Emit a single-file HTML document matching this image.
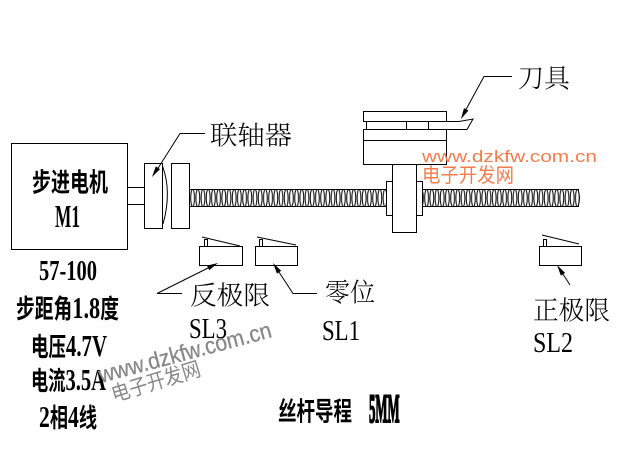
<!DOCTYPE html>
<html>
<head>
<meta charset="utf-8">
<style>
html,body{margin:0;padding:0;background:#fff;}
svg{display:block;}
.b{font-family:"Liberation Serif","Noto Sans CJK SC",sans-serif;font-weight:bold;font-size:26px;fill:#000;}
.l{font-family:"Liberation Serif","Noto Serif CJK SC","Noto Sans CJK SC",serif;font-weight:300;font-size:26px;fill:#000;}
.s{font-family:"Liberation Serif",serif;font-size:28px;fill:#000;}
.b .d{font-size:31px;}
</style>
</head>
<body>
<svg width="619" height="454" viewBox="0 0 619 454" xmlns="http://www.w3.org/2000/svg">
<defs>
<pattern id="thr" x="190" y="189" width="5.2" height="18" patternUnits="userSpaceOnUse">
<ellipse cx="2.6" cy="9" rx="1.9" ry="8.6" fill="none" stroke="#000" stroke-width="1"/>
</pattern>
</defs>
<rect width="619" height="454" fill="#fff"/>
<g fill="none" stroke="#000" stroke-width="1">
<!-- motor -->
<rect x="11.5" y="143.5" width="116" height="106"/>
<line x1="127" y1="187.5" x2="144" y2="187.5"/>
<line x1="127" y1="204.5" x2="144" y2="204.5"/>
<!-- coupling -->
<rect x="144.5" y="163.5" width="18" height="65"/>
<rect x="171.5" y="163.5" width="18" height="65"/>
<path d="M162.5,166 Q172,192 163,224"/>
<!-- screw -->
<rect x="190" y="189" width="389" height="18" fill="url(#thr)" stroke="none"/>
<line x1="190" y1="189.5" x2="579" y2="189.5"/>
<line x1="190" y1="206.5" x2="579" y2="206.5"/>
<path d="M578,189.5 Q581,198 578,206.5"/>
<!-- nut / carriage -->
<rect x="386.5" y="181.5" width="36" height="34" fill="#fff"/>
<rect x="392.5" y="164.5" width="24" height="68" fill="#fff"/>
<rect x="363.5" y="111.5" width="83" height="10" fill="#fff"/>
<path d="M366.5,121.5 L459,121.5 L473,119 L467,129.5 L366.5,129.5 Z" fill="#fff"/>
<line x1="406.5" y1="121.5" x2="406.5" y2="129.5"/>
<line x1="428.5" y1="121.5" x2="428.5" y2="129.5"/>
<rect x="363.5" y="129.5" width="83" height="35" fill="#fff"/>
<line x1="363.5" y1="140.5" x2="446.5" y2="140.5"/>
<!-- switches -->
<rect x="199.5" y="246.5" width="43" height="19"/>
<rect x="204.5" y="239.5" width="3" height="7"/>
<line x1="202" y1="237" x2="240" y2="246"/>
<rect x="255.5" y="246.5" width="42" height="19"/>
<rect x="259.5" y="239.5" width="3" height="7"/>
<line x1="257" y1="237" x2="296" y2="245"/>
<rect x="539.5" y="246.5" width="42" height="19"/>
<rect x="543.5" y="239.5" width="3" height="7"/>
<line x1="542" y1="235" x2="579" y2="244"/>
<!-- leaders -->
<polyline points="205,133.5 180,133.5 155,173"/>
<polyline points="512,76.5 484,76.5 463,115"/>
<polyline points="182,293.5 157,293.5 213,265.5"/>
<polyline points="317,293.5 293,293.5 275,266"/>
<line x1="570" y1="285" x2="559" y2="268"/>
</g>
<g fill="#000">
<polygon points="152,177 160,169.1 155.8,166.4"/>
<polygon points="461,119 468.4,110.5 464,108.1"/>
<polygon points="218,263 209.2,270.1 207,265.6"/>
<polygon points="273,263 281.2,270.8 277,273.6"/>
<polygon points="557,265 565.1,272.9 560.9,275.6"/>
</g>
<!-- bold texts -->
<text class="b" x="32" y="183" textLength="76" lengthAdjust="spacingAndGlyphs" dominant-baseline="central">步进电机</text>
<text class="b" x="55" y="227" textLength="25" lengthAdjust="spacingAndGlyphs" style="font-size:32px">M1</text>
<text class="b" x="39" y="280" textLength="58" lengthAdjust="spacingAndGlyphs" style="font-size:28px">57-100</text>
<text class="b" x="16" y="318" textLength="103" lengthAdjust="spacingAndGlyphs">步距角<tspan class="d">1.8</tspan>度</text>
<text class="b" x="31" y="356" textLength="76" lengthAdjust="spacingAndGlyphs">电压<tspan class="d">4.7V</tspan></text>
<text class="b" x="31" y="390" textLength="75" lengthAdjust="spacingAndGlyphs">电流<tspan class="d">3.5A</tspan></text>
<text class="b" x="39" y="427" textLength="58" lengthAdjust="spacingAndGlyphs"><tspan class="d">2</tspan>相<tspan class="d">4</tspan>线</text>
<text class="b" x="278" y="412" textLength="74" lengthAdjust="spacingAndGlyphs" dominant-baseline="central">丝杆导程</text>
<text transform="translate(369,422) scale(0.32,1)" x="0" y="0" style="font-family:'Liberation Serif',serif;font-weight:bold;font-size:40px;fill:#000;stroke:#000;stroke-width:2px">5MM</text>
<!-- light labels -->
<text class="l" x="210" y="136" textLength="82" lengthAdjust="spacingAndGlyphs" dominant-baseline="central">联轴器</text>
<text class="l" x="518" y="79" textLength="52" lengthAdjust="spacingAndGlyphs" dominant-baseline="central">刀具</text>
<text class="l" x="190" y="296" textLength="80" lengthAdjust="spacingAndGlyphs" dominant-baseline="central">反极限</text>
<text class="l" x="325" y="293" textLength="50" lengthAdjust="spacingAndGlyphs" dominant-baseline="central">零位</text>
<text class="l" x="533" y="311" textLength="77" lengthAdjust="spacingAndGlyphs" dominant-baseline="central">正极限</text>
<text class="s" x="189" y="338" textLength="38" lengthAdjust="spacingAndGlyphs">SL3</text>
<text class="s" x="322" y="340" textLength="38" lengthAdjust="spacingAndGlyphs">SL1</text>
<text class="s" x="533" y="352" textLength="40" lengthAdjust="spacingAndGlyphs">SL2</text>
<!-- orange watermark -->
<text x="422" y="162" textLength="175" lengthAdjust="spacingAndGlyphs" style="font-family:'Liberation Sans',sans-serif;font-size:17px;fill:#f47c4c">www.dzkfw.com.cn</text>
<text x="422" y="176" textLength="92" lengthAdjust="spacingAndGlyphs" dominant-baseline="central" style="font-family:'Liberation Sans','Noto Sans CJK SC',sans-serif;font-size:20px;fill:#f47c4c">电子开发网</text>
<!-- gray diagonal watermark -->
<g transform="translate(101,383) rotate(-15)">
<text x="0" y="0" textLength="178" lengthAdjust="spacingAndGlyphs" style="font-family:'Liberation Sans',sans-serif;font-size:23px;fill:#888;stroke:#888;stroke-width:0.3px">www.dzkfw.com.cn</text>
</g>
<g transform="translate(114,402) rotate(-17)">
<text x="0" y="0" textLength="92" lengthAdjust="spacingAndGlyphs" style="font-family:'Liberation Sans','Noto Sans CJK SC',sans-serif;font-size:21px;fill:#888">电子开发网</text>
</g>
</svg>
</body>
</html>
